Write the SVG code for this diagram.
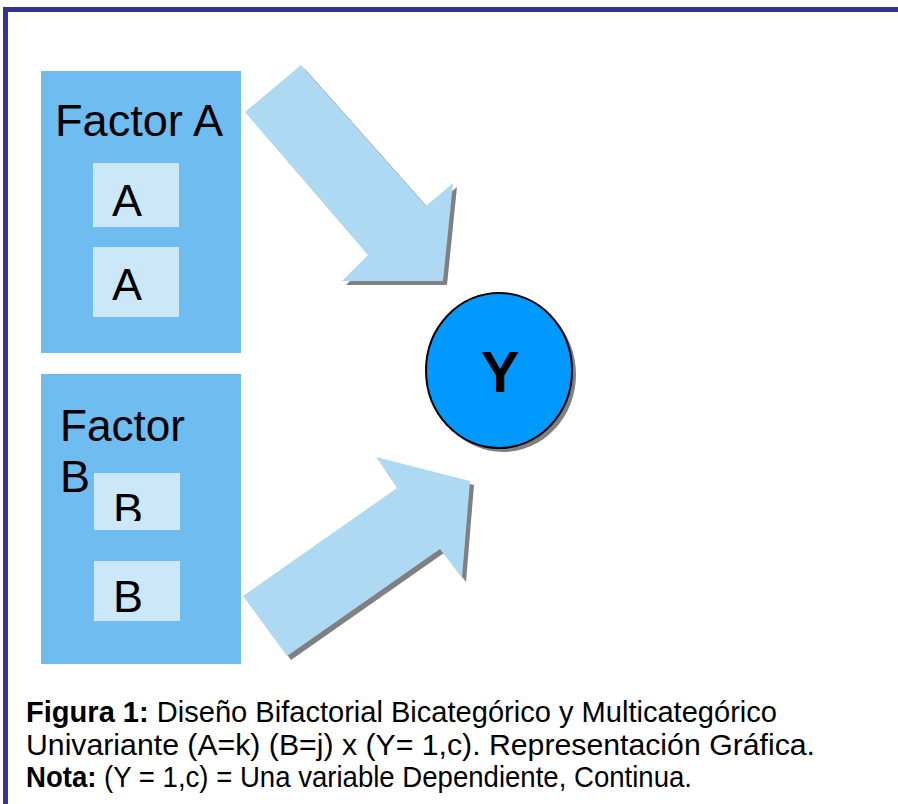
<svg xmlns="http://www.w3.org/2000/svg" width="898" height="804" viewBox="0 0 898 804">
<defs>
<style>
.factor{fill:#6EBCF0}
.level{fill:#CCE7F8}
.arrow{fill:#ADD9F2}
.shadow{fill:#808080}
.lbl{font-family:"Liberation Sans",Arial,sans-serif;font-size:45px;fill:#000}
.cap{font-family:"Liberation Sans",Arial,sans-serif;font-size:30px;fill:#000}
.b{font-weight:bold}
</style>
<clipPath id="clipB"><rect x="94" y="473" width="86" height="48"/></clipPath>
</defs>
<rect width="898" height="804" fill="#fff"/>
<rect x="5.5" y="9.5" width="1000" height="1000" fill="none" stroke="#333399" stroke-width="5"/>

<g id="factorA">
<rect class="factor" x="41" y="71" width="200" height="282"/>
<text class="lbl" x="55" y="136" textLength="168" lengthAdjust="spacingAndGlyphs">Factor A</text>
<rect class="level" x="93" y="163" width="86" height="64"/>
<text class="lbl" x="112" y="216">A</text>
<rect class="level" x="93" y="247" width="86" height="70"/>
<text class="lbl" x="112" y="300">A</text>
</g>

<g id="factorB">
<rect class="factor" x="41" y="374" width="200" height="290"/>
<text class="lbl" x="60" y="441" textLength="125" lengthAdjust="spacingAndGlyphs">Factor</text>
<rect class="level" x="94" y="473" width="86" height="57"/>
<text class="lbl" x="60" y="492">B</text>
<text class="lbl" x="113" y="525" clip-path="url(#clipB)">B</text>
<rect class="level" x="94" y="561" width="86" height="60"/>
<text class="lbl" x="113" y="612">B</text>
</g>

<g id="nodeY">
<ellipse class="shadow" cx="503" cy="374.5" rx="73" ry="77.5"/>
<ellipse cx="499" cy="370.5" rx="73" ry="77.5" fill="#0099FF" stroke="#000" stroke-width="2"/>
<text x="500" y="392" text-anchor="middle" font-family="Liberation Sans,Arial,sans-serif" font-size="58" font-weight="bold">Y</text>
</g>

<g id="connectors">
<polygon class="shadow" transform="translate(4,4)" points="301,65 426,206 453,183 443,281 342,281 368,255 245,112"/>
<polygon class="arrow" points="301,65 426,206 453,183 443,281 342,281 368,255 245,112"/>
<polygon class="shadow" transform="translate(4,4)" points="243,596 397,488 376,457 470,481 462,578 440,549 287,656"/>
<polygon class="arrow" points="243,596 397,488 376,457 470,481 462,578 440,549 287,656"/>
</g>

<g id="caption">
<text class="cap" x="26" y="722" textLength="751" lengthAdjust="spacingAndGlyphs"><tspan class="b">Figura 1:</tspan> Diseño Bifactorial Bicategórico y Multicategórico</text>
<text class="cap" x="26" y="755" textLength="789" lengthAdjust="spacingAndGlyphs">Univariante (A=k) (B=j) x (Y= 1,c). Representación Gráfica.</text>
<text class="cap" x="26" y="787" textLength="666" lengthAdjust="spacingAndGlyphs"><tspan class="b">Nota:</tspan> (Y = 1,c) = Una variable Dependiente, Continua.</text>
</g>
</svg>
